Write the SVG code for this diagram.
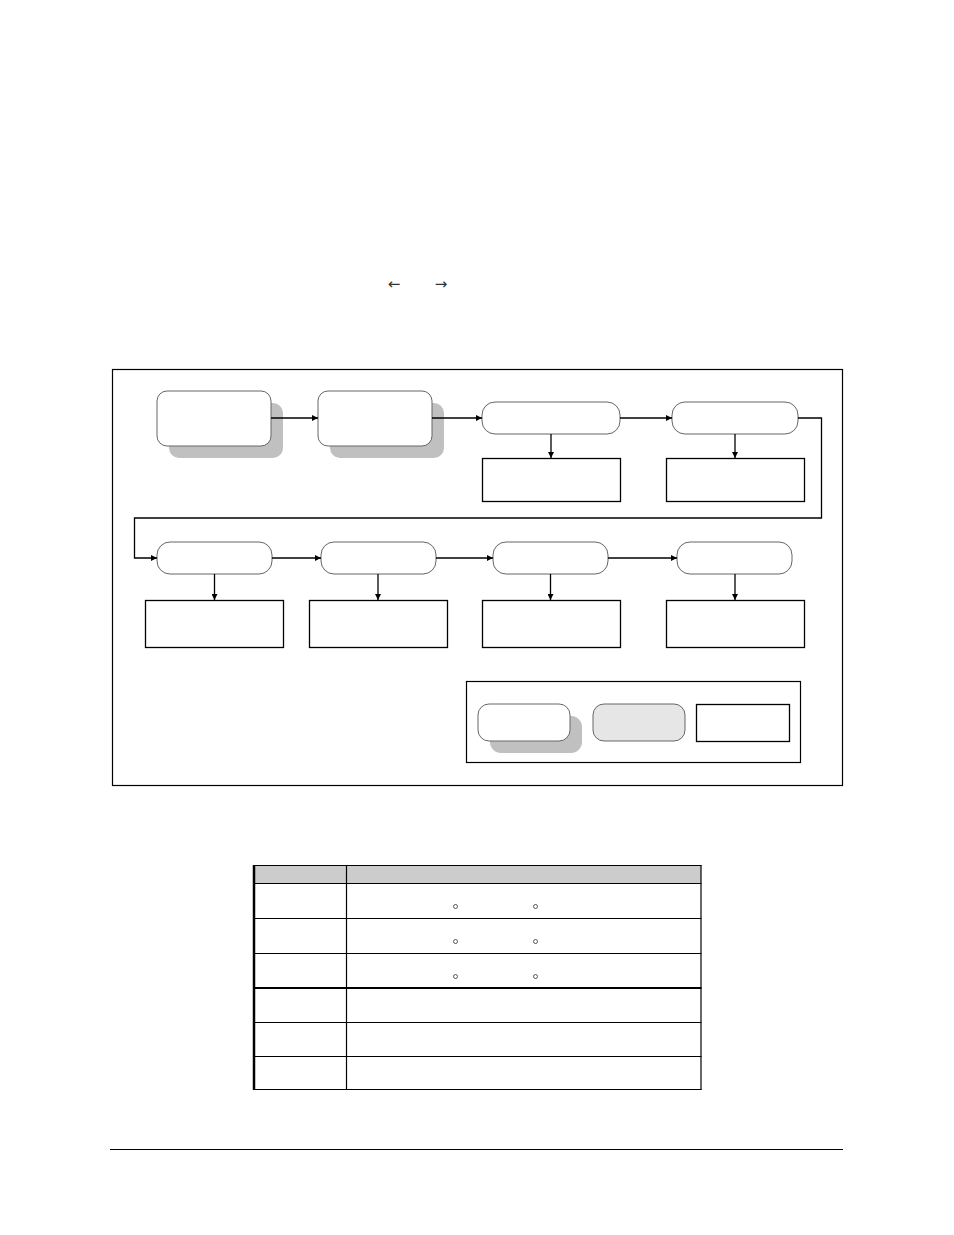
<svg xmlns="http://www.w3.org/2000/svg" width="954" height="1235" viewBox="0 0 954 1235">
<style>
.node{fill:#fff;stroke:#666;stroke-width:1}
.shadow{fill:#c0c0c0;stroke:none}
.box{fill:#fff;stroke:#000;stroke-width:1.3}
.conn{fill:none;stroke:#000;stroke-width:1.3}
.tl{stroke:#000;stroke-width:1.2}
.sym{font-family:"DejaVu Sans","Liberation Sans",sans-serif;fill:#333}
</style>
<defs>
<marker id="ah" viewBox="0 0 8 8" refX="8" refY="4" markerWidth="6" markerHeight="6" orient="auto" markerUnits="userSpaceOnUse">
<path d="M0,0 L8,4 L0,8 z" fill="#000"/>
</marker>
</defs>
<rect width="954" height="1235" fill="#fff"/>

<g id="top-arrows">
<text class="sym" x="394" y="288.5" font-size="15" text-anchor="middle">←</text>
<text class="sym" x="441" y="288.5" font-size="15" text-anchor="middle">→</text>
</g>

<rect id="frame" x="112.5" y="369.5" width="730" height="416" fill="none" stroke="#000" stroke-width="1.2"/>

<g id="n1"><rect class="shadow" x="169" y="403" width="114" height="55" rx="10"/><rect class="node" x="157" y="391" width="114" height="55" rx="10"/></g>
<g id="n2"><rect class="shadow" x="330" y="403" width="114" height="55" rx="10"/><rect class="node" x="318" y="391" width="114" height="55" rx="10"/></g>
<g id="n3"><rect class="node" x="482" y="402" width="138" height="32" rx="13"/></g>
<g id="n4"><rect class="node" x="672" y="402" width="126" height="32" rx="13"/></g>
<g id="b3"><rect class="box" x="482.5" y="458.5" width="138" height="43"/></g>
<g id="b4"><rect class="box" x="666.5" y="458.5" width="138" height="43"/></g>

<g id="n5"><rect class="node" x="157" y="542" width="115" height="32" rx="13"/></g>
<g id="n6"><rect class="node" x="321" y="542" width="115" height="32" rx="13"/></g>
<g id="n7"><rect class="node" x="493" y="542" width="115" height="32" rx="13"/></g>
<g id="n8"><rect class="node" x="677" y="542" width="115" height="32" rx="13"/></g>
<g id="b5"><rect class="box" x="145.5" y="600.5" width="138" height="47"/></g>
<g id="b6"><rect class="box" x="309.5" y="600.5" width="138" height="47"/></g>
<g id="b7"><rect class="box" x="482.5" y="600.5" width="138" height="47"/></g>
<g id="b8"><rect class="box" x="666.5" y="600.5" width="138" height="47"/></g>

<g id="legend">
<rect x="466.5" y="681.5" width="334" height="81" fill="none" stroke="#000" stroke-width="1.2"/>
<rect class="shadow" x="490" y="716" width="92" height="37" rx="11"/>
<rect class="node" x="478" y="704" width="92" height="37" rx="11"/>
<rect x="593" y="704" width="92" height="37" rx="11" fill="#e6e6e6" stroke="#666" stroke-width="1"/>
<rect class="box" x="696.5" y="704.5" width="93" height="37"/>
</g>

<g id="connectors">
<line class="conn" x1="271" y1="418" x2="318" y2="418" marker-end="url(#ah)"/>
<line class="conn" x1="432" y1="418" x2="482" y2="418" marker-end="url(#ah)"/>
<line class="conn" x1="620" y1="418" x2="672" y2="418" marker-end="url(#ah)"/>
<line class="conn" x1="551" y1="434" x2="551" y2="458" marker-end="url(#ah)"/>
<line class="conn" x1="735" y1="434" x2="735" y2="458" marker-end="url(#ah)"/>
<polyline class="conn" points="798,418 821.5,418 821.5,518 134.5,518 134.5,558 157,558" marker-end="url(#ah)"/>
<line class="conn" x1="272" y1="558" x2="321" y2="558" marker-end="url(#ah)"/>
<line class="conn" x1="436" y1="558" x2="493" y2="558" marker-end="url(#ah)"/>
<line class="conn" x1="608" y1="558" x2="677" y2="558" marker-end="url(#ah)"/>
<line class="conn" x1="214.5" y1="574" x2="214.5" y2="600" marker-end="url(#ah)"/>
<line class="conn" x1="378" y1="574" x2="378" y2="600" marker-end="url(#ah)"/>
<line class="conn" x1="550.5" y1="574" x2="550.5" y2="600" marker-end="url(#ah)"/>
<line class="conn" x1="735" y1="574" x2="735" y2="600" marker-end="url(#ah)"/>
</g>

<g id="table">
<rect x="253" y="865" width="448" height="18" fill="#cccccc"/>
<line class="tl" x1="253" y1="865.5" x2="701.5" y2="865.5"/>
<line class="tl" x1="253" y1="883.5" x2="701.5" y2="883.5"/>
<line class="tl" x1="253" y1="918.5" x2="701.5" y2="918.5"/>
<line class="tl" x1="253" y1="953.5" x2="701.5" y2="953.5"/>
<line x1="253" y1="988" x2="701.5" y2="988" stroke="#000" stroke-width="2"/>
<line class="tl" x1="253" y1="1022.5" x2="701.5" y2="1022.5"/>
<line class="tl" x1="253" y1="1056.5" x2="701.5" y2="1056.5"/>
<line class="tl" x1="253" y1="1089.5" x2="701.5" y2="1089.5"/>
<line x1="254" y1="865" x2="254" y2="1090" stroke="#000" stroke-width="2.5"/>
<line class="tl" x1="346.5" y1="865" x2="346.5" y2="1090"/>
<line class="tl" x1="701" y1="865" x2="701" y2="1090"/>
<circle cx="455.5" cy="906.5" r="2" fill="none" stroke="#333" stroke-width="0.8"/>
<circle cx="535.5" cy="906.5" r="2" fill="none" stroke="#333" stroke-width="0.8"/>
<circle cx="455.5" cy="941.5" r="2" fill="none" stroke="#333" stroke-width="0.8"/>
<circle cx="535.5" cy="941.5" r="2" fill="none" stroke="#333" stroke-width="0.8"/>
<circle cx="455.5" cy="976.5" r="2" fill="none" stroke="#333" stroke-width="0.8"/>
<circle cx="535.5" cy="976.5" r="2" fill="none" stroke="#333" stroke-width="0.8"/>
</g>

<line id="footer-rule" x1="110" y1="1149.5" x2="843" y2="1149.5" stroke="#000" stroke-width="1.2"/>
</svg>
